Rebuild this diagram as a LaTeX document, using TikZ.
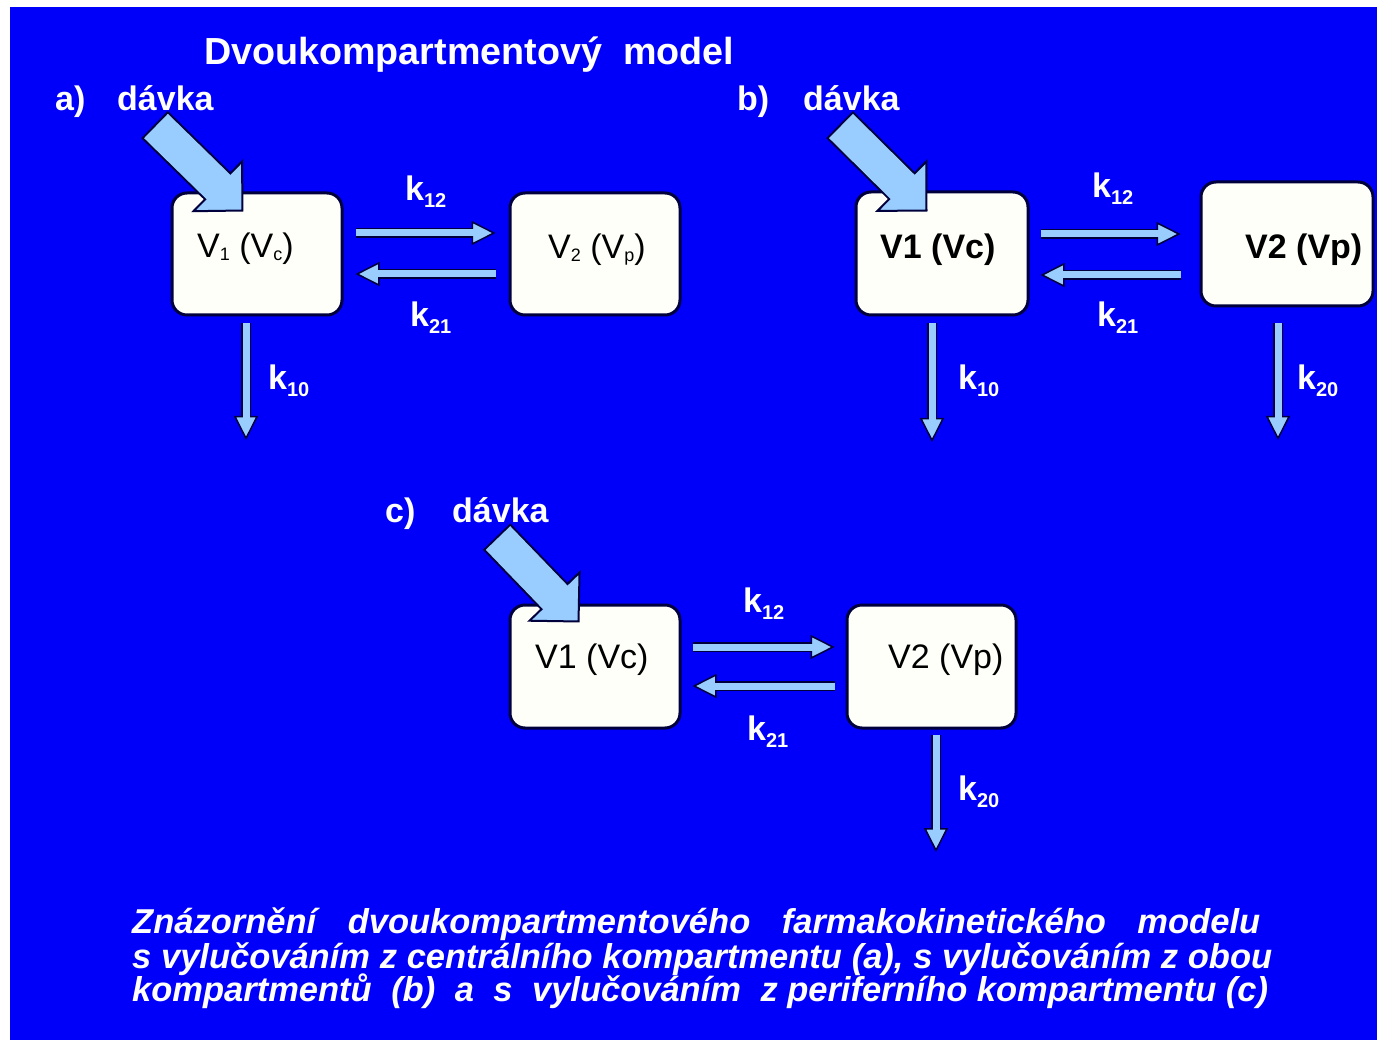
\documentclass[tikz,border=0pt]{standalone}
\usepackage{fontspec}
\setmainfont{Liberation Sans}
\usetikzlibrary{arrows.meta,calc}
\definecolor{bgblue}{RGB}{0,0,250}
\definecolor{navy}{RGB}{0,0,60}
\definecolor{lightblue}{RGB}{153,204,255}
\definecolor{boxfill}{RGB}{255,255,250}
\newcommand\fsz[1]{\fontsize{#1}{#1}\selectfont}
\newcommand\klab[1]{k\raisebox{-7pt}{\fsz{20}#1}}
\newcommand\vsub[1]{\raisebox{-3pt}{\fsz{18}#1}}
\newcommand\wsp{\hspace{10pt}}
\newcommand\flowarr[2]{\draw[flowout] #1 -- #2; \draw[flowin] #1 -- #2;}
\newcommand\dosearr[2]{\draw[doseout] #1 -- #2; \draw[dosein] #1 -- #2;}
\tikzset{
  flowout/.style={draw=navy, line width=10pt, -{Triangle[length=24pt,width=24pt,line width=1.5pt,fill=lightblue]}},
  flowin/.style={draw=lightblue, line width=7pt, shorten >=22pt},
  doseout/.style={draw=navy, line width=38pt, -{Triangle[length=37pt,width=74pt,line width=2pt,fill=lightblue]}, shorten <=-2pt},
  dosein/.style={draw=lightblue, line width=34pt, shorten >=34pt},
  compbox/.style={draw=navy, line width=3pt, fill=boxfill, rounded corners=15pt, inner sep=0pt},
  lbl/.style={text=white, font=\fsz{34}\bfseries, anchor=base west, inner sep=0pt},
  boxtxt/.style={text=black, font=\fsz{34}, anchor=base west, inner sep=0pt},
  boxtxtb/.style={boxtxt, font=\fsz{34}\bfseries},
  captxt/.style={text=white, font=\fsz{34.5}\bfseries\itshape, anchor=base west, inner sep=0pt},
}
\begin{document}
\begin{tikzpicture}[x=1pt, y=-1pt]
\useasboundingbox (0,0) rectangle (1377,1040);
\fill[white] (0,0) rectangle (1377,1040);
\fill[bgblue] (10,7) rectangle (1377,1040);

% boxes
\node[compbox, minimum width=170pt, minimum height=122pt] (a1) at (257,254) {};
\node[compbox, minimum width=170pt, minimum height=122pt] (a2) at (595,254) {};
\node[compbox, minimum width=172pt, minimum height=123pt] (b1) at (942,253.5) {};
\node[compbox, minimum width=172pt, minimum height=124pt] (b2) at (1287,244) {};
\node[compbox, minimum width=170pt, minimum height=123pt] (c1) at (595,666.5) {};
\node[compbox, minimum width=169pt, minimum height=123pt] (c2) at (931.5,666.5) {};

% free ends
\coordinate (ea10) at (246,440);
\coordinate (eb10) at (932,442);
\coordinate (eb20) at (1278,440);
\coordinate (ec20) at (936,852);
\coordinate (da) at (156,126);
\coordinate (db) at (841,126);
\coordinate (dc) at (498,538);

% exchange arrows
\flowarr{([shift={(12,-21)}]a1.east)}{([shift={(-13,-21)}]a2.west)}
\flowarr{([shift={(-13,20)}]a2.west)}{([shift={(12,20)}]a1.east)}
\flowarr{([shift={(11,-19.5)}]b1.east)}{([shift={(-19,-10)}]b2.west)}
\flowarr{([shift={(-19,31)}]b2.west)}{([shift={(11,21.5)}]b1.east)}
\flowarr{([shift={(11,-19.5)}]c1.east)}{([shift={(-11,-19.5)}]c2.west)}
\flowarr{([shift={(-11,19.5)}]c2.west)}{([shift={(11,19.5)}]c1.east)}

% elimination arrows
\flowarr{([shift={(-11,7)}]a1.south)}{(ea10)}
\flowarr{([shift={(-10,7)}]b1.south)}{(eb10)}
\flowarr{([shift={(-9,16)}]b2.south)}{(eb20)}
\flowarr{([shift={(4.5,5)}]c2.south)}{(ec20)}

% dose arrows
\dosearr{(da)}{([shift={(73,20)}]a1.north west)}
\dosearr{(db)}{([shift={(73,21)}]b1.north west)}
\dosearr{(dc)}{([shift={(71,19)}]c1.north west)}

% box texts
\node[boxtxt] (a1t) at (197,258) {V\vsub{1} (V\vsub{c})};
\node[boxtxt] (a2t) at (548,259) {V\vsub{2} (V\vsub{p})};
\node[boxtxtb] (b1t) at (880,259) {V1 (Vc)};
\node[boxtxtb] (b2t) at (1245,259) {V2 (Vp)};
\node[boxtxt] (c1t) at (535,668) {V1 (Vc)};
\node[boxtxt] (c2t) at (888,668) {V2 (Vp)};

% k labels
\node[lbl] (ka12) at (405,201) {\klab{12}};
\node[lbl] (ka21) at (410,327) {\klab{21}};
\node[lbl] (ka10) at (268,390) {\klab{10}};
\node[lbl] (kb12) at (1092,198) {\klab{12}};
\node[lbl] (kb21) at (1097,327) {\klab{21}};
\node[lbl] (kb10) at (958,390) {\klab{10}};
\node[lbl] (kb20) at (1297,390) {\klab{20}};
\node[lbl] (kc12) at (743,612) {\klab{12}};
\node[lbl] (kc21) at (747,740) {\klab{21}};
\node[lbl] (kc20) at (958,800) {\klab{20}};

% title and panel labels
\node[lbl, font=\fsz{37.7}\bfseries] (title) at (204,65) {Dvoukompartmentový\ \ model};
\node[lbl] (pa) at (55,111) {a)};
\node[lbl] (da_t) at (117,111) {dávka};
\node[lbl] (pb) at (737,111) {b)};
\node[lbl] (db_t) at (803,111) {dávka};
\node[lbl] (pc) at (385,522) {c)};
\node[lbl] (dc_t) at (452,522) {dávka};

% caption
\node[captxt] (cap1) at (132,933) {\makebox[1128pt][s]{Znázornění dvoukompartmentového farmakokinetického modelu}};
\node[captxt] (cap2) at (132,968) {\makebox[1140pt][s]{s vylučováním z centrálního kompartmentu (a), s vylučováním z obou}};
\node[captxt] (cap3) at (132,1001) {\makebox[1136pt][s]{kompartmentů\wsp{} (b)\wsp{} a\wsp{} s\wsp{} vylučováním\wsp{} z periferního kompartmentu (c)}};
\end{tikzpicture}
\end{document}
